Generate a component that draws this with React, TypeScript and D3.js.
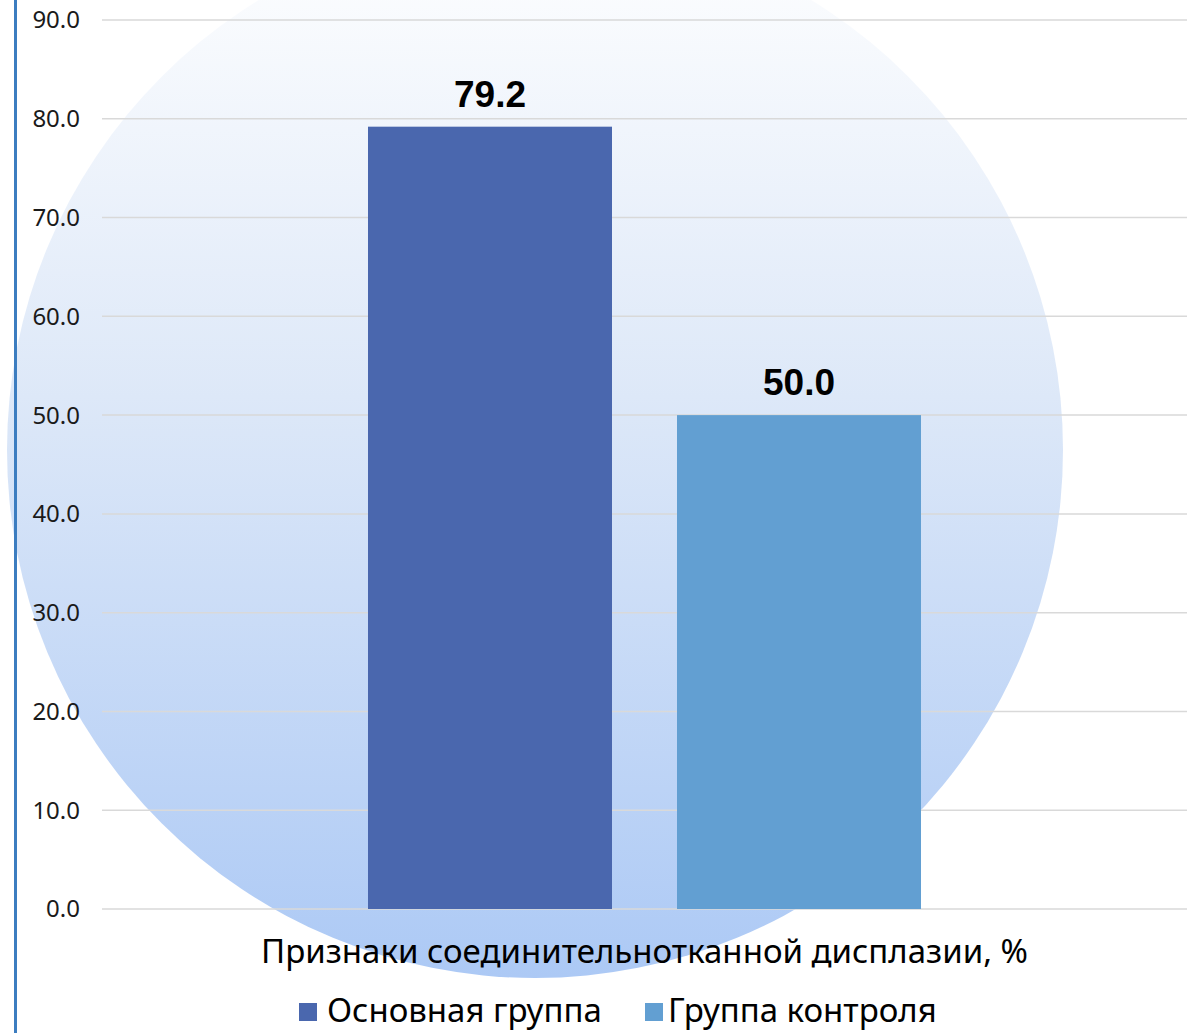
import { useEffect } from 'react';
import * as d3 from 'd3';

const categories = ['Признаки соединительнотканной дисплазии, %'];
const seriesNames = ['Основная группа', 'Группа контроля'];
const seriesValues = [79.2, 50.0];
const seriesColors = ['#4A67AE', '#629FD2'];
const yTicks = [0, 10, 20, 30, 40, 50, 60, 70, 80, 90];

const WIDTH = 1198;
const HEIGHT = 1033;
const PLOT = { left: 102, right: 1187, top: 20, bottom: 909 };
const FONT = '"Noto Sans", "DejaVu Sans", sans-serif';

export default function App() {
  useEffect(() => {
    document.body.style.margin = '0';
  }, []);

  const yScale = d3.scaleLinear().domain([0, 90]).range([PLOT.bottom, PLOT.top]);
  const xOuter = d3
    .scaleBand<string>()
    .domain(categories)
    .range([PLOT.left, PLOT.right])
    .paddingInner(0)
    .paddingOuter(0.481);
  const xInner = d3
    .scaleBand<string>()
    .domain(seriesNames)
    .range([0, xOuter.bandwidth()])
    .paddingInner(0.2104)
    .paddingOuter(0);

  // background circle
  const cx = 535;
  const cy = 450;
  const r = 528;

  // legend layout
  const legendMarkerX = [299, 645];
  const legendTextX = [327, 668];

  return (
    <svg width={WIDTH} height={HEIGHT} style={{ display: 'block', background: '#fff' }}>
      <defs>
        <linearGradient id="bgGrad" x1="0" y1="0" x2="0" y2="1">
          <stop offset="0" stopColor="#ffffff" />
          <stop offset="0.45" stopColor="#dde8f8" />
          <stop offset="1" stopColor="#acc9f5" />
        </linearGradient>
      </defs>
      <circle cx={cx} cy={cy} r={r} fill="url(#bgGrad)" />

      {/* left border */}
      <line x1={15.5} x2={15.5} y1={0} y2={HEIGHT} stroke="#3C7DC0" strokeWidth={3} />

      {/* gridlines + tick labels */}
      {yTicks.map((t) => (
        <g key={t}>
          <line
            x1={PLOT.left}
            x2={PLOT.right}
            y1={yScale(t)}
            y2={yScale(t)}
            stroke="#d9d9d9"
            strokeWidth={1.5}
          />
          <text
            x={80}
            y={yScale(t)}
            dy="0.35em"
            textAnchor="end"
            fontFamily={FONT}
            fontSize={24}
            fill="#1a1a1a"
          >
            {t.toFixed(1)}
          </text>
        </g>
      ))}

      {/* bars */}
      {categories.map((c) => (
        <g key={c} transform={`translate(${xOuter(c)},0)`}>
          {seriesNames.map((s, i) => {
            const x = xInner(s) ?? 0;
            const y = yScale(seriesValues[i]);
            return (
              <g key={s}>
                <rect
                  x={x}
                  y={y}
                  width={xInner.bandwidth()}
                  height={yScale(0) - y}
                  fill={seriesColors[i]}
                />
                <text
                  x={x + xInner.bandwidth() / 2}
                  y={y - 20}
                  textAnchor="middle"
                  fontFamily='"Liberation Sans", Arial, sans-serif'
                  fontWeight="bold"
                  fontSize={37}
                  fill="#000"
                >
                  {seriesValues[i].toFixed(1)}
                </text>
              </g>
            );
          })}
          <text
            x={xOuter.bandwidth() / 2}
            y={963}
            textAnchor="middle"
            fontFamily={FONT}
            fontSize={33}
            fill="#000"
          >
            {c}
          </text>
        </g>
      ))}

      {/* legend */}
      {seriesNames.map((s, i) => (
        <g key={s}>
          <rect x={legendMarkerX[i]} y={1003} width={18} height={18} fill={seriesColors[i]} />
          <text x={legendTextX[i]} y={1022} fontFamily={FONT} fontSize={33} fill="#000">
            {s}
          </text>
        </g>
      ))}
    </svg>
  );
}
